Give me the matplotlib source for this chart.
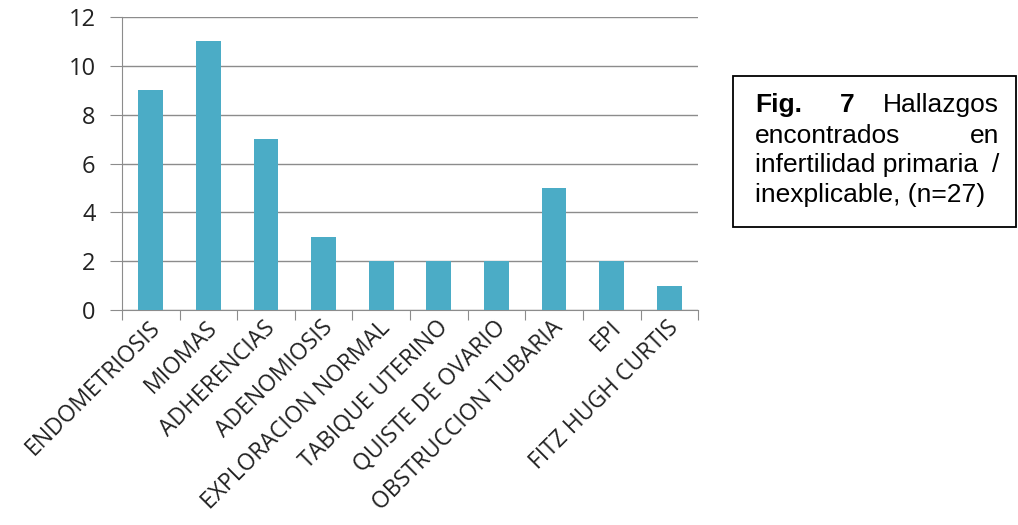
import matplotlib.pyplot as plt
import numpy as np

categories = ['ENDOMETRIOSIS', 'MIOMAS', 'ADHERENCIAS', 'ADENOMIOSIS', 'EXPLORACION NORMAL',
              'TABIQUE UTERINO', 'QUISTE DE OVARIO', 'OBSTRUCCION TUBARIA', 'EPI', 'FITZ HUGH CURTIS']
values = [9, 11, 7, 3, 2, 2, 2, 5, 2, 1]
yticks = [0, 2, 4, 6, 8, 10, 12]

fig = plt.figure(figsize=(10.18, 5.25), dpi=100)
ax = fig.add_axes([0.1198, 0.4095, 0.566, 0.558])

x = np.arange(len(categories))
ax.bar(x, values, width=0.43, color='#4BACC6', zorder=3)

ax.set_xlim(-0.5, len(categories) - 0.5)
ax.set_ylim(0, 12)
ax.set_yticks(yticks)
ax.set_yticklabels([str(t) for t in yticks], fontsize=17, family='Open Sans', color='#222222')
ax.yaxis.grid(True, color='#8c8c8c', linewidth=1)
ax.set_axisbelow(True)

# category boundary ticks on x axis
ax.set_xticks(np.arange(len(categories) + 1) - 0.5)
ax.set_xticklabels([])
ax.tick_params(axis='x', length=7, color='#8c8c8c', direction='out')
ax.tick_params(axis='y', length=9, color='#8c8c8c', direction='out', pad=10)
for i, c in enumerate(categories):
    ax.text(i - 0.05, -0.25, c, rotation=45, ha='right', va='top', rotation_mode='anchor',
            fontsize=16.5, family='Open Sans', color='#222222')

for s in ['top', 'right']:
    ax.spines[s].set_visible(False)
ax.spines['left'].set_color('#8c8c8c')
ax.spines['bottom'].set_color('#8c8c8c')

# caption box
fig.patches.append(plt.Rectangle((733 / 1018, 1 - 227 / 525), 283 / 1018, 151 / 525,
                                 transform=fig.transFigure, fill=False, edgecolor='black', linewidth=1.3))
fs = 19
fam = 'Liberation Sans'
L, R = 755 / 1018, 999 / 1018
ys = [1 - 112 / 525, 1 - 143 / 525, 1 - 172 / 525, 1 - 202 / 525]
fig.text(L, ys[0], 'Fig.', fontsize=fs, family=fam, weight='bold', va='baseline', ha='left')
fig.text(847 / 1018, ys[0], '7', fontsize=fs, family=fam, weight='bold', va='baseline', ha='center')
fig.text(R, ys[0], 'Hallazgos', fontsize=fs, family=fam, va='baseline', ha='right')
fig.text(L, ys[1], 'encontrados', fontsize=fs, family=fam, va='baseline', ha='left')
fig.text(R, ys[1], 'en', fontsize=fs, family=fam, va='baseline', ha='right')
fig.text(L, ys[2], 'infertilidad primaria', fontsize=fs, family=fam, va='baseline', ha='left')
fig.text(R, ys[2], '/', fontsize=fs, family=fam, va='baseline', ha='right')
fig.text(L, ys[3], 'inexplicable, (n=27)', fontsize=fs, family=fam, va='baseline', ha='left')

fig.savefig('out.png', dpi=100)
